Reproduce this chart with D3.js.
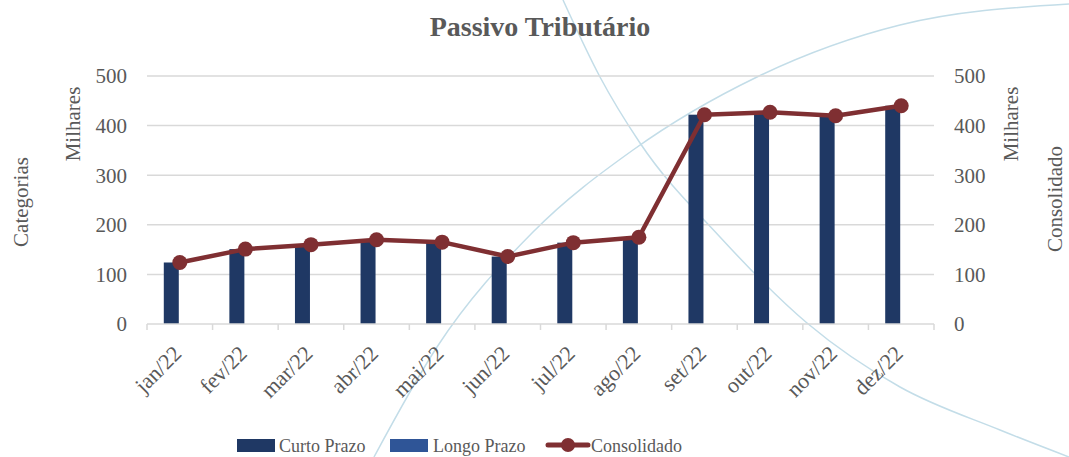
<!DOCTYPE html>
<html>
<head>
  <meta charset="utf-8">
  <script src="https://d3js.org/d3.v7.min.js"></script>
  <style>
    body { margin: 0; background: #fff; }
    svg { display: block; font-family: "Liberation Serif", serif; }
  </style>
</head>
<body>
<script>
  // values (in thousands)
  var months = ["jan/22", "fev/22", "mar/22", "abr/22", "mai/22", "jun/22",
                "jul/22", "ago/22", "set/22", "out/22", "nov/22", "dez/22"];
  var curtoPrazo = [124, 151, 160, 170, 165, 136, 164, 175, 422, 427, 420, 440];
  var longoPrazo = [0, 0, 0, 0, 0, 0, 0, 0, 0, 0, 0, 0];
  var consolidado = [124, 151, 160, 170, 165, 136, 164, 175, 422, 427, 420, 440];
  var yTicks = [0, 100, 200, 300, 400, 500];

  (function () {
    var W = 1069, H = 457;
    var m = {left: 147, right: 934, top: 76, bottom: 324};
    var textColor = "#595959";

    var svg = d3.select("body").append("svg")
      .attr("width", W).attr("height", H);

    // decorative background arcs
    var deco = d3.line().curve(d3.curveMonotoneX);
    svg.append("path")
      .attr("d", deco([[374, 457], [437, 347], [533, 232], [633, 150], [757, 77], [900, 25], [1069, 4]]))
      .attr("fill", "none").attr("stroke", "#c3dde8").attr("stroke-width", 1.5);
    svg.append("path")
      .attr("d", deco([[563, 0], [600, 77], [640, 143], [720, 237], [807, 323], [900, 387], [1000, 430], [1069, 457]]))
      .attr("fill", "none").attr("stroke", "#c3dde8").attr("stroke-width", 1.5);

    var x = d3.scaleBand().domain(months).range([m.left, m.right]);
    var y = d3.scaleLinear().domain([0, 500]).range([m.bottom, m.top]);

    // gridlines
    svg.append("g").selectAll("line")
      .data(yTicks.filter(function (d) { return d > 0; }))
      .enter().append("line")
        .attr("x1", m.left).attr("x2", m.right)
        .attr("y1", function (d) { return y(d); })
        .attr("y2", function (d) { return y(d); })
        .attr("stroke", "#d9d9d9").attr("stroke-width", 1.5);

    // bars
    var bw = 15;
    svg.append("g").selectAll("rect")
      .data(months)
      .enter().append("rect")
        .attr("x", function (d) { return x(d) + x.bandwidth() / 2 - bw - 1; })
        .attr("y", function (d, i) { return y(curtoPrazo[i]); })
        .attr("width", bw)
        .attr("height", function (d, i) { return y(0) - y(curtoPrazo[i]); })
        .attr("fill", "#1f3864");
    svg.append("g").selectAll("rect")
      .data(months)
      .enter().append("rect")
        .attr("x", function (d) { return x(d) + x.bandwidth() / 2; })
        .attr("y", function (d, i) { return y(longoPrazo[i]); })
        .attr("width", bw)
        .attr("height", function (d, i) { return y(0) - y(longoPrazo[i]); })
        .attr("fill", "#2f5597");

    // x axis line + ticks
    svg.append("line")
      .attr("x1", m.left).attr("x2", m.right)
      .attr("y1", y(0)).attr("y2", y(0))
      .attr("stroke", "#d9d9d9").attr("stroke-width", 1.5);
    var bounds = months.map(function (d) { return x(d); }).concat([m.right]);
    svg.append("g").selectAll("line")
      .data(bounds)
      .enter().append("line")
        .attr("x1", function (d) { return d; }).attr("x2", function (d) { return d; })
        .attr("y1", y(0)).attr("y2", y(0) + 6)
        .attr("stroke", "#d9d9d9").attr("stroke-width", 1.5);

    // line series
    var line = d3.line()
      .x(function (d, i) { return x(months[i]) + x.bandwidth() / 2; })
      .y(function (d) { return y(d); });
    svg.append("path")
      .datum(consolidado)
      .attr("d", line)
      .attr("fill", "none").attr("stroke", "#7f2f32").attr("stroke-width", 4.5)
      .attr("stroke-linejoin", "round");
    svg.append("g").selectAll("circle")
      .data(consolidado)
      .enter().append("circle")
        .attr("cx", function (d, i) { return x(months[i]) + x.bandwidth() / 2; })
        .attr("cy", function (d) { return y(d); })
        .attr("r", 7.5)
        .attr("fill", "#7f2f32");

    // y tick labels, both sides
    svg.append("g").selectAll("text")
      .data(yTicks)
      .enter().append("text")
        .attr("x", 127).attr("y", function (d) { return y(d); })
        .attr("dy", "0.35em").attr("text-anchor", "end")
        .attr("font-size", 21).attr("fill", textColor)
        .text(function (d) { return d; });
    svg.append("g").selectAll("text")
      .data(yTicks)
      .enter().append("text")
        .attr("x", 954).attr("y", function (d) { return y(d); })
        .attr("dy", "0.35em").attr("text-anchor", "start")
        .attr("font-size", 21).attr("fill", textColor)
        .text(function (d) { return d; });

    // x labels
    svg.append("g").selectAll("text")
      .data(months)
      .enter().append("text")
        .attr("transform", function (d) {
          return "translate(" + (x(d) + x.bandwidth() / 2 + 3) + "," + 355 + ") rotate(-45)";
        })
        .attr("text-anchor", "end")
        .attr("font-size", 22).attr("fill", textColor)
        .text(function (d) { return d; });

    // axis titles
    function vtitle(tx, ty, label) {
      svg.append("text")
        .attr("transform", "translate(" + tx + "," + ty + ") rotate(-90)")
        .attr("text-anchor", "middle").attr("dy", "0.35em")
        .attr("font-size", 21).attr("fill", textColor)
        .text(label);
    }
    vtitle(21, 202, "Categorias");
    vtitle(73, 124, "Milhares");
    vtitle(1011, 124, "Milhares");
    vtitle(1055, 199, "Consolidado");

    // title
    svg.append("text")
      .attr("x", 540).attr("y", 36)
      .attr("text-anchor", "middle")
      .attr("font-size", 28).attr("font-weight", "bold").attr("fill", textColor)
      .text("Passivo Tributário");

    // legend
    var lg = svg.append("g").attr("font-size", 18).attr("fill", textColor);
    lg.append("rect").attr("x", 237).attr("y", 439).attr("width", 38).attr("height", 13).attr("fill", "#1f3864");
    lg.append("text").attr("x", 279).attr("y", 452).text("Curto Prazo");
    lg.append("rect").attr("x", 390).attr("y", 439).attr("width", 38).attr("height", 13).attr("fill", "#2f5597");
    lg.append("text").attr("x", 433).attr("y", 452).text("Longo Prazo");
    lg.append("line").attr("x1", 548).attr("x2", 588).attr("y1", 445).attr("y2", 445)
      .attr("stroke", "#7f2f32").attr("stroke-width", 5).attr("stroke-linecap", "round");
    lg.append("circle").attr("cx", 568).attr("cy", 445).attr("r", 7).attr("fill", "#7f2f32");
    lg.append("text").attr("x", 591).attr("y", 452).text("Consolidado");
  })();
</script>
</body>
</html>
